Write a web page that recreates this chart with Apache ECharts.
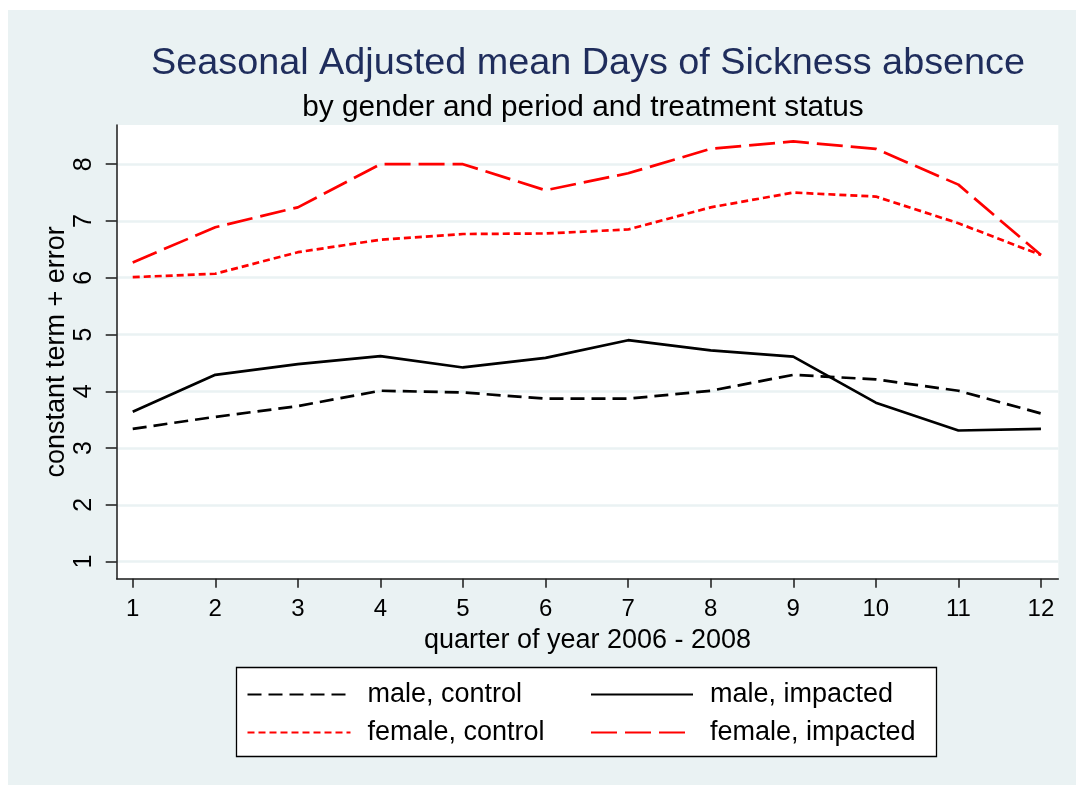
<!DOCTYPE html>
<html>
<head>
<meta charset="utf-8">
<title>Seasonal Adjusted mean Days of Sickness absence</title>
<script src="https://cdn.jsdelivr.net/npm/echarts@6/dist/echarts.min.js"></script>
<style>
  html, body { margin: 0; padding: 0; background: #ffffff; }
  #chart { width: 1076px; height: 785px; }
</style>
</head>
<body>
<div id="chart"></div>
<script>
// Quarters of 2006 - 2008
const quarters = [1, 2, 3, 4, 5, 6, 7, 8, 9, 10, 11, 12];
const xTicks = [1, 2, 3, 4, 5, 6, 7, 8, 9, 10, 11, 12];
const yTicks = [1, 2, 3, 4, 5, 6, 7, 8];

// Seasonally adjusted mean days of sickness absence (constant term + error)
const maleControl    = [3.34, 3.55, 3.74, 4.01, 3.98, 3.87, 3.87, 4.01, 4.29, 4.21, 4.01, 3.61];
const maleImpacted   = [3.64, 4.29, 4.48, 4.62, 4.42, 4.59, 4.90, 4.72, 4.61, 3.80, 3.31, 3.34];
const femaleControl  = [6.01, 6.07, 6.45, 6.67, 6.77, 6.78, 6.85, 7.24, 7.50, 7.43, 6.96, 6.40];
const femaleImpacted = [6.27, 6.89, 7.24, 8.00, 8.00, 7.54, 7.84, 8.27, 8.40, 8.27, 7.64, 6.40];

const FONT = "'Liberation Sans', Arial, Helvetica, sans-serif";
const BG = '#eaf2f3';

function pairs(values) {
  return quarters.map((q, i) => [q, values[i]]);
}

function lineSeries(name, values, color, dash) {
  return {
    name: name,
    type: 'line',
    data: pairs(values),
    symbol: 'none',
    showSymbol: false,
    lineStyle: { color: color, width: 2.7, type: dash },
    itemStyle: { color: color },
    emphasis: { disabled: true },
    z: 3
  };
}

const chart = echarts.init(document.getElementById('chart'), null, { renderer: 'canvas' });

const legendText = {
  fontFamily: FONT,
  fontSize: 27,
  color: '#000',
  padding: [0, 0, 0, 12]
};

// legend keys show only the line sample, no marker
const legendBase = {
  orient: 'vertical',
  top: 681,
  padding: 0,
  itemGap: 11,
  itemHeight: 14,
  selectedMode: false,
  itemStyle: { opacity: 0 },
  textStyle: legendText,
  z: 5
};

chart.setOption({
  animation: false,
  backgroundColor: '#ffffff',
  textStyle: { fontFamily: FONT },
  graphic: [
    {
      type: 'rect',
      shape: { x: 8, y: 10, width: 1068, height: 775 },
      style: { fill: BG },
      z: -10,
      silent: true
    },
    {
      type: 'rect',
      shape: { x: 236.5, y: 667.5, width: 700, height: 89 },
      style: { fill: '#ffffff', stroke: '#000000', lineWidth: 1.3 },
      z: 0,
      silent: true
    }
  ],
  title: [
    {
      text: 'Seasonal Adjusted mean Days of Sickness absence',
      left: 583,
      top: 40,
      textAlign: 'center',
      textStyle: { fontFamily: FONT, fontSize: 37.8, fontWeight: 'normal', color: '#1f2d5c' }
    },
    {
      text: 'by gender and period and treatment status',
      left: 578,
      top: 88,
      textAlign: 'center',
      textStyle: { fontFamily: FONT, fontSize: 29.8, fontWeight: 'normal', color: '#000000' }
    }
  ],
  legend: [
    Object.assign({}, legendBase, {
      data: ['male, control', 'female, control'],
      left: 246.5,
      itemWidth: 103
    }),
    Object.assign({}, legendBase, {
      data: ['male, impacted', 'female, impacted'],
      left: 590,
      itemWidth: 102
    })
  ],
  grid: {
    left: 116.7,
    top: 125,
    right: 17.7,
    bottom: 206.3,
    show: true,
    backgroundColor: '#ffffff',
    borderWidth: 0,
    containLabel: false
  },
  xAxis: {
    type: 'value',
    min: 0.806,
    max: 12.21,
    name: 'quarter of year 2006 - 2008',
    nameLocation: 'middle',
    nameGap: 41,
    nameTextStyle: { fontFamily: FONT, fontSize: 27, color: '#000' },
    axisLine: { show: true, onZero: false, lineStyle: { color: '#1a1a1a', width: 1.5 } },
    axisTick: { show: true, length: 9, customValues: xTicks, lineStyle: { color: '#1a1a1a', width: 1.5 } },
    axisLabel: {
      customValues: xTicks,
      fontFamily: FONT, fontSize: 24, color: '#000', margin: 19
    },
    splitLine: { show: false }
  },
  yAxis: {
    type: 'value',
    min: 0.70,
    max: 8.69,
    name: 'constant term + error',
    nameLocation: 'middle',
    nameRotate: 90,
    nameGap: 47,
    nameMoveOverlap: false,
    nameTextStyle: { fontFamily: FONT, fontSize: 27, color: '#000' },
    axisLine: { show: true, onZero: false, lineStyle: { color: '#1a1a1a', width: 1.5 } },
    axisTick: { show: true, length: 11, customValues: yTicks, lineStyle: { color: '#1a1a1a', width: 1.5 } },
    axisLabel: {
      customValues: yTicks,
      rotate: 90,
      fontFamily: FONT, fontSize: 25, color: '#000', margin: 20
    },
    splitLine: { show: true, lineStyle: { color: BG, width: 2.5 } }
  },
  series: [
    lineSeries('male, control', maleControl, '#000000', [14, 7]),
    lineSeries('male, impacted', maleImpacted, '#000000', 'solid'),
    lineSeries('female, control', femaleControl, '#ff0000', [7, 4]),
    lineSeries('female, impacted', femaleImpacted, '#ff0000', [26, 8])
  ]
});
</script>
</body>
</html>
